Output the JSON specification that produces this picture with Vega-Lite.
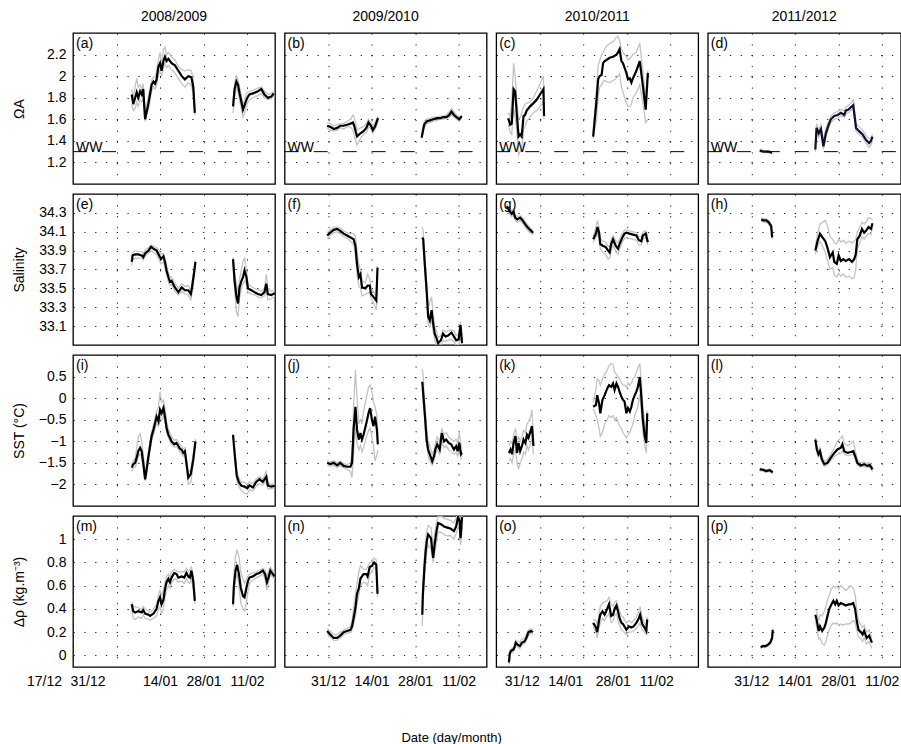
{
"$schema":"https://vega.github.io/schema/vega-lite/v6.json",
"padding":{"left":11,"top":9,"right":0,"bottom":0},
"config":{
 "font":"Liberation Sans",
 "view":{"stroke":"black","strokeWidth":1.3},
 "axis":{"labelFont":"Liberation Sans","labelFontSize":14,"labelColor":"black","titleFont":"Liberation Sans","titleFontSize":14,"titleFontWeight":"normal","titleColor":"black","gridColor":"black","gridDash":[1.3,9.5],"gridOpacity":0.85,"gridWidth":1,"domain":false,"ticks":false,"labelFlush":false,"labelOverlap":false},
 "title":{"font":"Liberation Sans","fontSize":14,"fontWeight":"normal","color":"black","offset":9},
 "text":{"font":"Liberation Sans","fontSize":14,"color":"black"}
},
"title":{"text":"Date (day/month)","orient":"bottom","anchor":"middle","frame":"bounds","offset":43,"fontSize":13,"dx":-5},
"columns":4,
"spacing":{"row":8,"column":5.6},
"datasets":{
"a":[{"g":1,"d":18.9,"m":1.83,"lo":1.74,"hi":1.88},{"g":1,"d":19.4,"m":1.74,"lo":1.68,"hi":1.8},{"g":1,"d":20.0,"m":1.8,"lo":1.7,"hi":1.9},{"g":1,"d":20.5,"m":1.85,"lo":1.76,"hi":1.98},{"g":1,"d":21.0,"m":1.8,"lo":1.72,"hi":1.9},{"g":1,"d":21.6,"m":1.86,"lo":1.78,"hi":1.92},{"g":1,"d":22.1,"m":1.83,"lo":1.76,"hi":1.88},{"g":1,"d":22.6,"m":1.88,"lo":1.8,"hi":1.93},{"g":1,"d":23.2,"m":1.6,"lo":1.58,"hi":1.66},{"g":1,"d":24.3,"m":1.75,"lo":1.7,"hi":1.82},{"g":1,"d":25.3,"m":1.92,"lo":1.86,"hi":1.96},{"g":1,"d":25.9,"m":1.95,"lo":1.9,"hi":1.99},{"g":1,"d":26.4,"m":1.93,"lo":1.88,"hi":1.99},{"g":1,"d":26.9,"m":1.97,"lo":1.92,"hi":2.05},{"g":1,"d":27.5,"m":2.09,"lo":2.02,"hi":2.15},{"g":1,"d":28.0,"m":2.12,"lo":2.05,"hi":2.22},{"g":1,"d":28.5,"m":2.05,"lo":2.0,"hi":2.1},{"g":1,"d":29.1,"m":2.14,"lo":2.08,"hi":2.25},{"g":1,"d":29.6,"m":2.18,"lo":2.12,"hi":2.27},{"g":1,"d":30.1,"m":2.14,"lo":2.08,"hi":2.2},{"g":1,"d":30.7,"m":2.16,"lo":2.1,"hi":2.22},{"g":1,"d":31.7,"m":2.12,"lo":2.06,"hi":2.18},{"g":1,"d":32.8,"m":2.1,"lo":2.03,"hi":2.15},{"g":1,"d":33.9,"m":2.05,"lo":1.98,"hi":2.09},{"g":1,"d":35.0,"m":2.0,"lo":1.93,"hi":2.06},{"g":1,"d":36.0,"m":1.97,"lo":1.9,"hi":2.05},{"g":1,"d":37.1,"m":2.0,"lo":1.94,"hi":2.06},{"g":1,"d":38.1,"m":1.99,"lo":1.91,"hi":2.05},{"g":1,"d":38.7,"m":1.9,"lo":1.84,"hi":1.96},{"g":1,"d":39.2,"m":1.66,"lo":1.64,"hi":1.7},
{"g":2,"d":51.5,"m":1.72,"lo":1.66,"hi":1.76},{"g":2,"d":52.0,"m":1.88,"lo":1.8,"hi":1.94},{"g":2,"d":52.6,"m":1.95,"lo":1.9,"hi":2.0},{"g":2,"d":53.1,"m":1.92,"lo":1.86,"hi":1.97},{"g":2,"d":53.6,"m":1.84,"lo":1.78,"hi":1.9},{"g":2,"d":54.2,"m":1.76,"lo":1.7,"hi":1.82},{"g":2,"d":54.7,"m":1.69,"lo":1.62,"hi":1.74},{"g":2,"d":55.2,"m":1.73,"lo":1.66,"hi":1.78},{"g":2,"d":55.8,"m":1.78,"lo":1.72,"hi":1.84},{"g":2,"d":56.3,"m":1.81,"lo":1.76,"hi":1.85},{"g":2,"d":56.8,"m":1.83,"lo":1.78,"hi":1.86},{"g":2,"d":57.9,"m":1.84,"lo":1.8,"hi":1.87},{"g":2,"d":59.5,"m":1.86,"lo":1.82,"hi":1.89},{"g":2,"d":60.6,"m":1.88,"lo":1.84,"hi":1.9},{"g":2,"d":61.6,"m":1.83,"lo":1.8,"hi":1.86},{"g":2,"d":62.7,"m":1.8,"lo":1.78,"hi":1.83},{"g":2,"d":63.8,"m":1.81,"lo":1.79,"hi":1.84},{"g":2,"d":64.6,"m":1.84,"lo":1.82,"hi":1.86}],
"b":[{"g":1,"d":13.7,"m":1.54,"lo":1.52,"hi":1.57},{"g":1,"d":14.7,"m":1.53,"lo":1.5,"hi":1.56},{"g":1,"d":15.8,"m":1.51,"lo":1.49,"hi":1.54},{"g":1,"d":16.9,"m":1.52,"lo":1.5,"hi":1.55},{"g":1,"d":17.9,"m":1.54,"lo":1.52,"hi":1.56},{"g":1,"d":19.0,"m":1.54,"lo":1.51,"hi":1.56},{"g":1,"d":20.1,"m":1.55,"lo":1.53,"hi":1.58},{"g":1,"d":21.2,"m":1.56,"lo":1.53,"hi":1.6},{"g":1,"d":22.0,"m":1.57,"lo":1.5,"hi":1.64},{"g":1,"d":22.4,"m":1.54,"lo":1.45,"hi":1.62},{"g":1,"d":23.3,"m":1.44,"lo":1.36,"hi":1.5},{"g":1,"d":24.4,"m":1.47,"lo":1.42,"hi":1.52},{"g":1,"d":25.4,"m":1.49,"lo":1.46,"hi":1.53},{"g":1,"d":26.3,"m":1.52,"lo":1.48,"hi":1.56},{"g":1,"d":27.0,"m":1.57,"lo":1.53,"hi":1.6},{"g":1,"d":27.8,"m":1.54,"lo":1.51,"hi":1.57},{"g":1,"d":28.4,"m":1.5,"lo":1.47,"hi":1.54},{"g":1,"d":29.2,"m":1.54,"lo":1.51,"hi":1.57},{"g":1,"d":29.9,"m":1.6,"lo":1.57,"hi":1.62},{"g":1,"d":30.2,"m":1.61,"lo":1.59,"hi":1.62},
{"g":2,"d":44.1,"m":1.43,"lo":1.42,"hi":1.45},{"g":2,"d":44.9,"m":1.55,"lo":1.52,"hi":1.58},{"g":2,"d":45.7,"m":1.58,"lo":1.56,"hi":1.6},{"g":2,"d":46.8,"m":1.59,"lo":1.57,"hi":1.61},{"g":2,"d":47.9,"m":1.6,"lo":1.58,"hi":1.62},{"g":2,"d":49.0,"m":1.61,"lo":1.59,"hi":1.62},{"g":2,"d":50.0,"m":1.61,"lo":1.6,"hi":1.63},{"g":2,"d":51.1,"m":1.62,"lo":1.6,"hi":1.63},{"g":2,"d":52.1,"m":1.62,"lo":1.61,"hi":1.64},{"g":2,"d":53.0,"m":1.64,"lo":1.62,"hi":1.67},{"g":2,"d":53.7,"m":1.67,"lo":1.64,"hi":1.7},{"g":2,"d":54.5,"m":1.64,"lo":1.62,"hi":1.67},{"g":2,"d":55.3,"m":1.62,"lo":1.6,"hi":1.64},{"g":2,"d":56.2,"m":1.6,"lo":1.58,"hi":1.62},{"g":2,"d":57.0,"m":1.63,"lo":1.61,"hi":1.64}],
"c":[{"g":1,"d":3.9,"m":1.61,"lo":1.55,"hi":1.66},{"g":1,"d":4.5,"m":1.55,"lo":1.48,"hi":1.62},{"g":1,"d":5.0,"m":1.56,"lo":1.46,"hi":1.75},{"g":1,"d":5.6,"m":1.88,"lo":1.7,"hi":2.12},{"g":1,"d":6.1,"m":1.86,"lo":1.62,"hi":2.0},{"g":1,"d":6.6,"m":1.66,"lo":1.5,"hi":1.78},{"g":1,"d":7.2,"m":1.44,"lo":1.27,"hi":1.6},{"g":1,"d":7.7,"m":1.46,"lo":1.3,"hi":1.62},{"g":1,"d":8.2,"m":1.44,"lo":1.32,"hi":1.65},{"g":1,"d":8.8,"m":1.63,"lo":1.5,"hi":1.72},{"g":1,"d":9.3,"m":1.64,"lo":1.54,"hi":1.74},{"g":1,"d":9.8,"m":1.68,"lo":1.58,"hi":1.75},{"g":1,"d":10.9,"m":1.72,"lo":1.62,"hi":1.76},{"g":1,"d":12.0,"m":1.75,"lo":1.66,"hi":1.8},{"g":1,"d":13.0,"m":1.78,"lo":1.68,"hi":1.86},{"g":1,"d":14.1,"m":1.83,"lo":1.72,"hi":1.93},{"g":1,"d":15.2,"m":1.88,"lo":1.76,"hi":2.0},{"g":1,"d":15.4,"m":1.63,"lo":1.6,"hi":1.68},
{"g":2,"d":31.2,"m":1.44,"lo":1.42,"hi":1.47},{"g":2,"d":32.3,"m":1.78,"lo":1.6,"hi":1.9},{"g":2,"d":32.8,"m":1.97,"lo":1.8,"hi":2.1},{"g":2,"d":33.3,"m":2.0,"lo":1.9,"hi":2.14},{"g":2,"d":33.9,"m":2.01,"lo":1.92,"hi":2.2},{"g":2,"d":34.4,"m":2.12,"lo":1.95,"hi":2.22},{"g":2,"d":34.9,"m":2.14,"lo":1.96,"hi":2.25},{"g":2,"d":35.5,"m":2.15,"lo":1.95,"hi":2.28},{"g":2,"d":36.5,"m":2.17,"lo":1.94,"hi":2.3},{"g":2,"d":37.6,"m":2.18,"lo":1.96,"hi":2.32},{"g":2,"d":38.7,"m":2.2,"lo":1.98,"hi":2.36},{"g":2,"d":39.2,"m":2.22,"lo":2.0,"hi":2.37},{"g":2,"d":39.7,"m":2.25,"lo":2.02,"hi":2.33},{"g":2,"d":40.3,"m":2.14,"lo":1.9,"hi":2.25},{"g":2,"d":40.8,"m":2.12,"lo":1.85,"hi":2.22},{"g":2,"d":41.9,"m":2.03,"lo":1.75,"hi":2.18},{"g":2,"d":42.4,"m":1.97,"lo":1.72,"hi":2.15},{"g":2,"d":43.0,"m":1.98,"lo":1.72,"hi":2.16},{"g":2,"d":43.5,"m":1.94,"lo":1.74,"hi":2.18},{"g":2,"d":44.0,"m":1.98,"lo":1.8,"hi":2.2},{"g":2,"d":45.1,"m":2.05,"lo":1.85,"hi":2.22},{"g":2,"d":45.6,"m":2.09,"lo":1.88,"hi":2.26},{"g":2,"d":46.2,"m":2.14,"lo":1.92,"hi":2.3},{"g":2,"d":47.2,"m":1.91,"lo":1.75,"hi":2.05},{"g":2,"d":48.1,"m":1.69,"lo":1.57,"hi":1.8},{"g":2,"d":48.8,"m":2.03,"lo":1.6,"hi":2.05}],
"d":[{"g":1,"d":16.7,"m":1.31,"lo":1.3,"hi":1.32},{"g":1,"d":18.0,"m":1.3,"lo":1.29,"hi":1.31},{"g":1,"d":19.5,"m":1.3,"lo":1.29,"hi":1.31},{"g":1,"d":20.7,"m":1.29,"lo":1.28,"hi":1.3},
{"g":2,"d":34.6,"m":1.32,"lo":1.3,"hi":1.35},{"g":2,"d":35.0,"m":1.52,"lo":1.48,"hi":1.56},{"g":2,"d":35.7,"m":1.47,"lo":1.43,"hi":1.5},{"g":2,"d":36.4,"m":1.51,"lo":1.47,"hi":1.55},{"g":2,"d":37.2,"m":1.35,"lo":1.32,"hi":1.4},{"g":2,"d":38.0,"m":1.47,"lo":1.44,"hi":1.52},{"g":2,"d":38.9,"m":1.55,"lo":1.52,"hi":1.58},{"g":2,"d":39.6,"m":1.6,"lo":1.57,"hi":1.63},{"g":2,"d":40.7,"m":1.63,"lo":1.6,"hi":1.66},{"g":2,"d":41.8,"m":1.64,"lo":1.61,"hi":1.67},{"g":2,"d":42.8,"m":1.66,"lo":1.63,"hi":1.69},{"g":2,"d":43.9,"m":1.64,"lo":1.62,"hi":1.68},{"g":2,"d":44.4,"m":1.68,"lo":1.65,"hi":1.71},{"g":2,"d":45.3,"m":1.69,"lo":1.66,"hi":1.73},{"g":2,"d":46.0,"m":1.71,"lo":1.68,"hi":1.75},{"g":2,"d":46.8,"m":1.73,"lo":1.7,"hi":1.78},{"g":2,"d":47.7,"m":1.52,"lo":1.49,"hi":1.56},{"g":2,"d":48.7,"m":1.49,"lo":1.46,"hi":1.53},{"g":2,"d":49.8,"m":1.46,"lo":1.43,"hi":1.5},{"g":2,"d":50.9,"m":1.41,"lo":1.38,"hi":1.45},{"g":2,"d":51.9,"m":1.38,"lo":1.34,"hi":1.42},{"g":2,"d":52.5,"m":1.4,"lo":1.36,"hi":1.43},{"g":2,"d":53.0,"m":1.44,"lo":1.4,"hi":1.46}],
"e":[{"g":1,"d":18.9,"m":33.78,"lo":33.74,"hi":33.82},{"g":1,"d":19.2,"m":33.85,"lo":33.8,"hi":33.88},{"g":1,"d":20.0,"m":33.86,"lo":33.82,"hi":33.9},{"g":1,"d":21.0,"m":33.86,"lo":33.82,"hi":33.89},{"g":1,"d":22.1,"m":33.85,"lo":33.82,"hi":33.89},{"g":1,"d":22.6,"m":33.83,"lo":33.8,"hi":33.87},{"g":1,"d":23.2,"m":33.87,"lo":33.84,"hi":33.91},{"g":1,"d":24.3,"m":33.9,"lo":33.87,"hi":33.93},{"g":1,"d":25.1,"m":33.94,"lo":33.9,"hi":33.96},{"g":1,"d":25.9,"m":33.92,"lo":33.88,"hi":33.95},{"g":1,"d":26.9,"m":33.9,"lo":33.86,"hi":33.93},{"g":1,"d":27.7,"m":33.85,"lo":33.8,"hi":33.9},{"g":1,"d":28.3,"m":33.81,"lo":33.76,"hi":33.86},{"g":1,"d":29.1,"m":33.84,"lo":33.78,"hi":33.87},{"g":1,"d":29.6,"m":33.78,"lo":33.72,"hi":33.82},{"g":1,"d":30.1,"m":33.69,"lo":33.64,"hi":33.74},{"g":1,"d":30.7,"m":33.62,"lo":33.57,"hi":33.66},{"g":1,"d":31.2,"m":33.57,"lo":33.53,"hi":33.62},{"g":1,"d":31.7,"m":33.58,"lo":33.54,"hi":33.62},{"g":1,"d":32.8,"m":33.51,"lo":33.47,"hi":33.56},{"g":1,"d":33.9,"m":33.46,"lo":33.43,"hi":33.5},{"g":1,"d":35.0,"m":33.51,"lo":33.47,"hi":33.55},{"g":1,"d":36.0,"m":33.48,"lo":33.44,"hi":33.52},{"g":1,"d":37.1,"m":33.48,"lo":33.43,"hi":33.53},{"g":1,"d":37.9,"m":33.44,"lo":33.38,"hi":33.48},{"g":1,"d":38.3,"m":33.51,"lo":33.45,"hi":33.56},{"g":1,"d":38.9,"m":33.65,"lo":33.6,"hi":33.7},{"g":1,"d":39.4,"m":33.78,"lo":33.75,"hi":33.8},
{"g":2,"d":51.5,"m":33.81,"lo":33.78,"hi":33.83},{"g":2,"d":52.0,"m":33.58,"lo":33.5,"hi":33.65},{"g":2,"d":52.6,"m":33.41,"lo":33.25,"hi":33.55},{"g":2,"d":53.1,"m":33.34,"lo":33.2,"hi":33.45},{"g":2,"d":53.6,"m":33.51,"lo":33.4,"hi":33.6},{"g":2,"d":54.2,"m":33.58,"lo":33.5,"hi":33.7},{"g":2,"d":54.7,"m":33.62,"lo":33.55,"hi":33.78},{"g":2,"d":55.2,"m":33.69,"lo":33.58,"hi":33.83},{"g":2,"d":55.8,"m":33.62,"lo":33.55,"hi":33.7},{"g":2,"d":56.3,"m":33.5,"lo":33.46,"hi":33.55},{"g":2,"d":57.4,"m":33.48,"lo":33.44,"hi":33.52},{"g":2,"d":58.4,"m":33.46,"lo":33.43,"hi":33.5},{"g":2,"d":59.5,"m":33.44,"lo":33.41,"hi":33.48},{"g":2,"d":60.6,"m":33.43,"lo":33.4,"hi":33.47},{"g":2,"d":61.6,"m":33.46,"lo":33.42,"hi":33.5},{"g":2,"d":62.2,"m":33.55,"lo":33.48,"hi":33.65},{"g":2,"d":62.7,"m":33.44,"lo":33.38,"hi":33.5},{"g":2,"d":63.8,"m":33.43,"lo":33.39,"hi":33.47},{"g":2,"d":64.9,"m":33.45,"lo":33.42,"hi":33.48}],
"f":[{"g":1,"d":13.7,"m":34.06,"lo":34.03,"hi":34.09},{"g":1,"d":14.7,"m":34.09,"lo":34.06,"hi":34.12},{"g":1,"d":15.8,"m":34.12,"lo":34.09,"hi":34.15},{"g":1,"d":16.9,"m":34.13,"lo":34.1,"hi":34.15},{"g":1,"d":17.9,"m":34.11,"lo":34.08,"hi":34.14},{"g":1,"d":19.0,"m":34.08,"lo":34.05,"hi":34.11},{"g":1,"d":20.1,"m":34.06,"lo":34.03,"hi":34.09},{"g":1,"d":21.2,"m":34.04,"lo":34.0,"hi":34.08},{"g":1,"d":22.2,"m":34.02,"lo":33.97,"hi":34.08},{"g":1,"d":22.8,"m":33.95,"lo":33.85,"hi":34.05},{"g":1,"d":23.3,"m":33.76,"lo":33.65,"hi":33.9},{"g":1,"d":23.9,"m":33.62,"lo":33.52,"hi":33.75},{"g":1,"d":24.4,"m":33.65,"lo":33.5,"hi":33.7},{"g":1,"d":24.9,"m":33.51,"lo":33.42,"hi":33.58},{"g":1,"d":26.0,"m":33.5,"lo":33.44,"hi":33.56},{"g":1,"d":26.7,"m":33.53,"lo":33.45,"hi":33.65},{"g":1,"d":27.4,"m":33.53,"lo":33.46,"hi":33.6},{"g":1,"d":27.8,"m":33.44,"lo":33.4,"hi":33.5},{"g":1,"d":28.6,"m":33.41,"lo":33.35,"hi":33.46},{"g":1,"d":29.5,"m":33.37,"lo":33.27,"hi":33.42},{"g":1,"d":29.9,"m":33.72,"lo":33.6,"hi":33.74},
{"g":2,"d":44.3,"m":34.04,"lo":33.98,"hi":34.15},{"g":2,"d":44.6,"m":34.02,"lo":33.95,"hi":34.1},{"g":2,"d":45.1,"m":33.76,"lo":33.7,"hi":33.85},{"g":2,"d":45.7,"m":33.48,"lo":33.42,"hi":33.56},{"g":2,"d":46.2,"m":33.2,"lo":33.12,"hi":33.3},{"g":2,"d":46.7,"m":33.16,"lo":33.09,"hi":33.35},{"g":2,"d":47.3,"m":33.27,"lo":33.18,"hi":33.41},{"g":2,"d":47.8,"m":33.13,"lo":33.05,"hi":33.22},{"g":2,"d":48.3,"m":33.02,"lo":32.95,"hi":33.1},{"g":2,"d":48.9,"m":32.97,"lo":32.9,"hi":33.04},{"g":2,"d":49.4,"m":32.92,"lo":32.88,"hi":32.98},{"g":2,"d":50.3,"m":32.95,"lo":32.9,"hi":33.0},{"g":2,"d":51.0,"m":33.02,"lo":32.95,"hi":33.06},{"g":2,"d":51.8,"m":32.99,"lo":32.94,"hi":33.04},{"g":2,"d":52.6,"m":33.0,"lo":32.95,"hi":33.05},{"g":2,"d":53.7,"m":33.03,"lo":32.96,"hi":33.06},{"g":2,"d":54.5,"m":32.99,"lo":32.93,"hi":33.05},{"g":2,"d":55.2,"m":32.95,"lo":32.9,"hi":33.0},{"g":2,"d":56.0,"m":32.96,"lo":32.9,"hi":33.02},{"g":2,"d":56.6,"m":33.11,"lo":33.0,"hi":33.15},{"g":2,"d":57.1,"m":32.92,"lo":32.88,"hi":32.96}],
"g":[{"g":1,"d":3.4,"m":34.37,"lo":34.34,"hi":34.39},{"g":1,"d":4.3,"m":34.32,"lo":34.29,"hi":34.35},{"g":1,"d":5.0,"m":34.29,"lo":34.26,"hi":34.32},{"g":1,"d":5.6,"m":34.31,"lo":34.28,"hi":34.34},{"g":1,"d":6.1,"m":34.25,"lo":34.22,"hi":34.28},{"g":1,"d":6.8,"m":34.23,"lo":34.2,"hi":34.26},{"g":1,"d":7.7,"m":34.25,"lo":34.22,"hi":34.27},{"g":1,"d":8.5,"m":34.22,"lo":34.19,"hi":34.25},{"g":1,"d":9.3,"m":34.18,"lo":34.15,"hi":34.21},{"g":1,"d":10.0,"m":34.15,"lo":34.12,"hi":34.18},{"g":1,"d":10.9,"m":34.12,"lo":34.09,"hi":34.14},{"g":1,"d":11.9,"m":34.09,"lo":34.07,"hi":34.11},
{"g":2,"d":31.2,"m":34.02,"lo":33.99,"hi":34.05},{"g":2,"d":32.1,"m":34.08,"lo":34.04,"hi":34.15},{"g":2,"d":32.6,"m":34.15,"lo":34.08,"hi":34.22},{"g":2,"d":33.1,"m":34.09,"lo":34.03,"hi":34.14},{"g":2,"d":33.5,"m":33.97,"lo":33.92,"hi":34.03},{"g":2,"d":34.4,"m":33.95,"lo":33.88,"hi":34.0},{"g":2,"d":35.2,"m":33.94,"lo":33.86,"hi":33.99},{"g":2,"d":36.0,"m":33.9,"lo":33.81,"hi":33.95},{"g":2,"d":36.5,"m":33.88,"lo":33.82,"hi":33.94},{"g":2,"d":37.0,"m":33.97,"lo":33.9,"hi":34.02},{"g":2,"d":37.6,"m":34.02,"lo":33.96,"hi":34.06},{"g":2,"d":38.5,"m":33.95,"lo":33.89,"hi":34.0},{"g":2,"d":39.2,"m":33.92,"lo":33.86,"hi":33.98},{"g":2,"d":39.7,"m":33.97,"lo":33.92,"hi":34.02},{"g":2,"d":40.6,"m":34.04,"lo":33.99,"hi":34.08},{"g":2,"d":41.3,"m":34.08,"lo":34.03,"hi":34.12},{"g":2,"d":41.9,"m":34.09,"lo":34.04,"hi":34.12},{"g":2,"d":42.9,"m":34.08,"lo":34.03,"hi":34.11},{"g":2,"d":44.0,"m":34.07,"lo":34.02,"hi":34.1},{"g":2,"d":45.1,"m":34.06,"lo":34.01,"hi":34.09},{"g":2,"d":45.9,"m":34.01,"lo":33.96,"hi":34.05},{"g":2,"d":46.7,"m":34.0,"lo":33.96,"hi":34.04},{"g":2,"d":47.2,"m":34.06,"lo":34.02,"hi":34.1},{"g":2,"d":48.1,"m":34.08,"lo":34.04,"hi":34.11},{"g":2,"d":48.8,"m":33.99,"lo":33.96,"hi":34.05}],
"h":[{"g":1,"d":17.2,"m":34.23,"lo":34.21,"hi":34.25},{"g":1,"d":17.9,"m":34.22,"lo":34.2,"hi":34.24},{"g":1,"d":18.8,"m":34.22,"lo":34.2,"hi":34.24},{"g":1,"d":19.6,"m":34.2,"lo":34.18,"hi":34.22},{"g":1,"d":20.4,"m":34.16,"lo":34.14,"hi":34.18},{"g":1,"d":20.7,"m":34.04,"lo":34.02,"hi":34.06},
{"g":2,"d":34.6,"m":33.9,"lo":33.86,"hi":33.95},{"g":2,"d":35.3,"m":34.0,"lo":33.94,"hi":34.08},{"g":2,"d":36.1,"m":34.08,"lo":34.0,"hi":34.18},{"g":2,"d":36.9,"m":34.04,"lo":33.95,"hi":34.2},{"g":2,"d":37.8,"m":34.0,"lo":33.88,"hi":34.22},{"g":2,"d":38.6,"m":33.92,"lo":33.79,"hi":34.15},{"g":2,"d":39.3,"m":33.83,"lo":33.7,"hi":34.05},{"g":2,"d":40.2,"m":33.88,"lo":33.72,"hi":34.02},{"g":2,"d":40.7,"m":33.78,"lo":33.64,"hi":33.98},{"g":2,"d":41.5,"m":33.76,"lo":33.62,"hi":33.97},{"g":2,"d":42.1,"m":33.85,"lo":33.66,"hi":34.02},{"g":2,"d":42.8,"m":33.79,"lo":33.63,"hi":33.99},{"g":2,"d":43.6,"m":33.81,"lo":33.65,"hi":34.01},{"g":2,"d":44.4,"m":33.79,"lo":33.62,"hi":33.98},{"g":2,"d":45.5,"m":33.81,"lo":33.63,"hi":34.0},{"g":2,"d":46.4,"m":33.78,"lo":33.6,"hi":33.98},{"g":2,"d":47.1,"m":33.81,"lo":33.62,"hi":34.0},{"g":2,"d":47.6,"m":33.86,"lo":33.7,"hi":34.02},{"g":2,"d":48.1,"m":34.02,"lo":33.92,"hi":34.1},{"g":2,"d":48.9,"m":34.06,"lo":33.98,"hi":34.15},{"g":2,"d":49.6,"m":34.13,"lo":34.05,"hi":34.2},{"g":2,"d":50.3,"m":34.09,"lo":34.02,"hi":34.18},{"g":2,"d":50.9,"m":34.11,"lo":34.05,"hi":34.2},{"g":2,"d":51.7,"m":34.15,"lo":34.08,"hi":34.25},{"g":2,"d":52.5,"m":34.13,"lo":34.07,"hi":34.24},{"g":2,"d":53.0,"m":34.19,"lo":34.14,"hi":34.23}],
"i":[{"g":1,"d":18.9,"m":-1.61,"lo":-1.7,"hi":-1.55},{"g":1,"d":19.4,"m":-1.53,"lo":-1.62,"hi":-1.45},{"g":1,"d":20.0,"m":-1.5,"lo":-1.6,"hi":-1.4},{"g":1,"d":20.5,"m":-1.38,"lo":-1.5,"hi":-1.15},{"g":1,"d":21.0,"m":-1.23,"lo":-1.35,"hi":-0.9},{"g":1,"d":21.6,"m":-1.15,"lo":-1.3,"hi":-0.82},{"g":1,"d":22.1,"m":-1.23,"lo":-1.4,"hi":-1.0},{"g":1,"d":22.6,"m":-1.5,"lo":-1.6,"hi":-1.3},{"g":1,"d":23.2,"m":-1.88,"lo":-1.92,"hi":-1.75},{"g":1,"d":23.7,"m":-1.65,"lo":-1.75,"hi":-1.55},{"g":1,"d":24.3,"m":-1.34,"lo":-1.45,"hi":-1.25},{"g":1,"d":24.8,"m":-1.11,"lo":-1.2,"hi":-1.02},{"g":1,"d":25.3,"m":-0.88,"lo":-0.98,"hi":-0.78},{"g":1,"d":25.9,"m":-0.73,"lo":-0.85,"hi":-0.62},{"g":1,"d":26.4,"m":-0.58,"lo":-0.72,"hi":-0.45},{"g":1,"d":26.9,"m":-0.43,"lo":-0.58,"hi":-0.3},{"g":1,"d":27.5,"m":-0.54,"lo":-0.65,"hi":-0.2},{"g":1,"d":28.0,"m":-0.27,"lo":-0.45,"hi":0.15},{"g":1,"d":28.5,"m":-0.35,"lo":-0.5,"hi":-0.1},{"g":1,"d":29.1,"m":-0.23,"lo":-0.4,"hi":-0.05},{"g":1,"d":29.6,"m":-0.43,"lo":-0.55,"hi":-0.25},{"g":1,"d":30.1,"m":-0.69,"lo":-0.78,"hi":-0.55},{"g":1,"d":30.7,"m":-0.85,"lo":-0.92,"hi":-0.72},{"g":1,"d":31.2,"m":-0.92,"lo":-1.0,"hi":-0.8},{"g":1,"d":31.7,"m":-1.0,"lo":-1.08,"hi":-0.9},{"g":1,"d":32.6,"m":-1.07,"lo":-1.14,"hi":-0.98},{"g":1,"d":33.3,"m":-1.04,"lo":-1.12,"hi":-0.96},{"g":1,"d":33.9,"m":-1.11,"lo":-1.18,"hi":-1.02},{"g":1,"d":34.4,"m":-1.17,"lo":-1.25,"hi":-1.08},{"g":1,"d":34.9,"m":-1.19,"lo":-1.28,"hi":-1.1},{"g":1,"d":35.5,"m":-1.27,"lo":-1.35,"hi":-1.18},{"g":1,"d":36.0,"m":-1.23,"lo":-1.32,"hi":-1.15},{"g":1,"d":36.5,"m":-1.5,"lo":-1.6,"hi":-1.4},{"g":1,"d":37.1,"m":-1.84,"lo":-2.0,"hi":-1.75},{"g":1,"d":37.9,"m":-1.76,"lo":-1.95,"hi":-1.65},{"g":1,"d":38.7,"m":-1.42,"lo":-1.55,"hi":-1.3},{"g":1,"d":39.4,"m":-1.0,"lo":-1.08,"hi":-0.95},
{"g":2,"d":51.5,"m":-0.85,"lo":-0.88,"hi":-0.82},{"g":2,"d":51.8,"m":-1.11,"lo":-1.18,"hi":-1.05},{"g":2,"d":52.3,"m":-1.5,"lo":-1.6,"hi":-1.42},{"g":2,"d":52.7,"m":-1.8,"lo":-1.9,"hi":-1.7},{"g":2,"d":53.4,"m":-1.95,"lo":-2.05,"hi":-1.85},{"g":2,"d":54.2,"m":-2.03,"lo":-2.15,"hi":-1.95},{"g":2,"d":55.2,"m":-2.05,"lo":-2.2,"hi":-1.95},{"g":2,"d":56.1,"m":-2.09,"lo":-2.22,"hi":-2.0},{"g":2,"d":56.8,"m":-2.02,"lo":-2.12,"hi":-1.94},{"g":2,"d":57.9,"m":-2.07,"lo":-2.15,"hi":-1.98},{"g":2,"d":58.9,"m":-1.95,"lo":-2.05,"hi":-1.88},{"g":2,"d":60.0,"m":-1.88,"lo":-1.98,"hi":-1.82},{"g":2,"d":61.1,"m":-1.94,"lo":-2.02,"hi":-1.88},{"g":2,"d":62.2,"m":-1.82,"lo":-1.92,"hi":-1.7},{"g":2,"d":62.7,"m":-2.03,"lo":-2.1,"hi":-1.95},{"g":2,"d":63.8,"m":-2.05,"lo":-2.1,"hi":-2.0},{"g":2,"d":64.9,"m":-2.03,"lo":-2.08,"hi":-1.98}],
"j":[{"g":1,"d":13.7,"m":-1.5,"lo":-1.55,"hi":-1.45},{"g":1,"d":14.7,"m":-1.53,"lo":-1.58,"hi":-1.48},{"g":1,"d":15.8,"m":-1.5,"lo":-1.56,"hi":-1.45},{"g":1,"d":16.9,"m":-1.56,"lo":-1.61,"hi":-1.5},{"g":1,"d":17.9,"m":-1.5,"lo":-1.57,"hi":-1.46},{"g":1,"d":19.0,"m":-1.57,"lo":-1.62,"hi":-1.52},{"g":1,"d":20.1,"m":-1.59,"lo":-1.65,"hi":-1.54},{"g":1,"d":21.2,"m":-1.59,"lo":-1.7,"hi":-1.5},{"g":1,"d":21.7,"m":-1.5,"lo":-1.84,"hi":-1.3},{"g":1,"d":22.2,"m":-0.73,"lo":-1.3,"hi":-0.2},{"g":1,"d":22.8,"m":-0.2,"lo":-0.7,"hi":0.65},{"g":1,"d":23.3,"m":-0.73,"lo":-1.05,"hi":0.0},{"g":1,"d":23.9,"m":-0.96,"lo":-1.2,"hi":-0.6},{"g":1,"d":24.4,"m":-0.81,"lo":-1.1,"hi":-0.5},{"g":1,"d":24.9,"m":-0.96,"lo":-1.25,"hi":-0.6},{"g":1,"d":25.4,"m":-0.85,"lo":-1.15,"hi":-0.3},{"g":1,"d":26.3,"m":-0.58,"lo":-0.9,"hi":0.0},{"g":1,"d":27.0,"m":-0.35,"lo":-0.75,"hi":0.25},{"g":1,"d":27.5,"m":-0.23,"lo":-0.7,"hi":0.3},{"g":1,"d":28.1,"m":-0.5,"lo":-0.9,"hi":0.15},{"g":1,"d":28.6,"m":-0.65,"lo":-1.1,"hi":-0.1},{"g":1,"d":29.1,"m":-0.43,"lo":-1.46,"hi":-0.2},{"g":1,"d":29.7,"m":-0.73,"lo":-1.3,"hi":-0.4},{"g":1,"d":30.0,"m":-1.07,"lo":-1.2,"hi":-0.9},
{"g":2,"d":44.3,"m":0.38,"lo":0.2,"hi":0.68},{"g":2,"d":44.6,"m":0.11,"lo":-0.1,"hi":0.5},{"g":2,"d":45.1,"m":-0.35,"lo":-0.55,"hi":-0.1},{"g":2,"d":45.7,"m":-0.96,"lo":-1.1,"hi":-0.7},{"g":2,"d":46.2,"m":-1.19,"lo":-1.35,"hi":-1.0},{"g":2,"d":46.7,"m":-1.3,"lo":-1.45,"hi":-1.1},{"g":2,"d":47.5,"m":-1.46,"lo":-1.55,"hi":-1.3},{"g":2,"d":48.1,"m":-1.34,"lo":-1.45,"hi":-1.2},{"g":2,"d":48.5,"m":-1.19,"lo":-1.3,"hi":-1.05},{"g":2,"d":49.1,"m":-1.07,"lo":-1.2,"hi":-0.9},{"g":2,"d":49.9,"m":-1.19,"lo":-1.3,"hi":-1.0},{"g":2,"d":50.6,"m":-0.81,"lo":-1.0,"hi":-0.7},{"g":2,"d":51.3,"m":-1.0,"lo":-1.15,"hi":-0.85},{"g":2,"d":52.0,"m":-0.96,"lo":-1.1,"hi":-0.8},{"g":2,"d":52.8,"m":-1.04,"lo":-1.2,"hi":-0.9},{"g":2,"d":53.6,"m":-1.07,"lo":-1.25,"hi":-0.95},{"g":2,"d":54.5,"m":-1.19,"lo":-1.3,"hi":-1.0},{"g":2,"d":55.2,"m":-1.11,"lo":-1.25,"hi":-0.95},{"g":2,"d":55.7,"m":-1.23,"lo":-1.35,"hi":-1.05},{"g":2,"d":56.2,"m":-1.04,"lo":-1.2,"hi":-0.8},{"g":2,"d":56.8,"m":-1.3,"lo":-1.4,"hi":-1.1},{"g":2,"d":57.1,"m":-1.27,"lo":-1.35,"hi":-1.15}],
"k":[{"g":1,"d":4.1,"m":-1.27,"lo":-1.45,"hi":-1.1},{"g":1,"d":4.6,"m":-1.19,"lo":-1.4,"hi":-1.0},{"g":1,"d":5.1,"m":-1.3,"lo":-1.5,"hi":-1.05},{"g":1,"d":5.6,"m":-1.04,"lo":-1.3,"hi":-0.85},{"g":1,"d":6.2,"m":-0.88,"lo":-1.2,"hi":-0.7},{"g":1,"d":6.7,"m":-1.27,"lo":-1.5,"hi":-1.0},{"g":1,"d":7.2,"m":-1.04,"lo":-1.65,"hi":-0.9},{"g":1,"d":7.7,"m":-1.23,"lo":-1.5,"hi":-1.0},{"g":1,"d":8.3,"m":-1.11,"lo":-1.4,"hi":-0.9},{"g":1,"d":8.8,"m":-0.96,"lo":-1.25,"hi":-0.75},{"g":1,"d":9.4,"m":-1.04,"lo":-1.3,"hi":-0.8},{"g":1,"d":9.9,"m":-0.85,"lo":-1.1,"hi":-0.6},{"g":1,"d":10.4,"m":-0.92,"lo":-1.2,"hi":-0.55},{"g":1,"d":11.0,"m":-0.77,"lo":-1.05,"hi":-0.45},{"g":1,"d":11.5,"m":-0.65,"lo":-0.95,"hi":-0.27},{"g":1,"d":12.0,"m":-1.11,"lo":-1.3,"hi":-0.9},
{"g":2,"d":31.2,"m":-0.2,"lo":-0.25,"hi":-0.1},{"g":2,"d":32.1,"m":-0.16,"lo":-0.4,"hi":0.2},{"g":2,"d":32.5,"m":0.07,"lo":-0.5,"hi":0.45},{"g":2,"d":33.1,"m":-0.12,"lo":-0.7,"hi":0.4},{"g":2,"d":33.5,"m":-0.35,"lo":-0.88,"hi":0.3},{"g":2,"d":34.2,"m":-0.04,"lo":-0.8,"hi":0.45},{"g":2,"d":34.9,"m":0.07,"lo":-0.6,"hi":0.55},{"g":2,"d":35.7,"m":0.22,"lo":-0.5,"hi":0.65},{"g":2,"d":36.3,"m":0.3,"lo":-0.4,"hi":0.75},{"g":2,"d":37.0,"m":0.26,"lo":-0.45,"hi":0.8},{"g":2,"d":37.6,"m":0.34,"lo":-0.4,"hi":0.78},{"g":2,"d":38.1,"m":0.19,"lo":-0.5,"hi":0.6},{"g":2,"d":38.7,"m":0.34,"lo":-0.45,"hi":0.55},{"g":2,"d":39.2,"m":0.26,"lo":-0.55,"hi":0.5},{"g":2,"d":39.7,"m":0.15,"lo":-0.65,"hi":0.45},{"g":2,"d":40.3,"m":0.03,"lo":-0.7,"hi":0.35},{"g":2,"d":40.8,"m":-0.04,"lo":-0.8,"hi":0.3},{"g":2,"d":41.3,"m":-0.08,"lo":-0.85,"hi":0.3},{"g":2,"d":41.9,"m":-0.35,"lo":-0.92,"hi":0.25},{"g":2,"d":42.4,"m":-0.23,"lo":-0.85,"hi":0.35},{"g":2,"d":43.0,"m":-0.31,"lo":-0.8,"hi":0.3},{"g":2,"d":43.5,"m":-0.2,"lo":-0.7,"hi":0.35},{"g":2,"d":44.0,"m":-0.04,"lo":-0.6,"hi":0.45},{"g":2,"d":44.6,"m":0.07,"lo":-0.4,"hi":0.5},{"g":2,"d":45.1,"m":0.15,"lo":-0.3,"hi":0.6},{"g":2,"d":45.6,"m":0.26,"lo":-0.2,"hi":0.7},{"g":2,"d":46.2,"m":0.49,"lo":0.1,"hi":0.8},{"g":2,"d":46.7,"m":0.03,"lo":-0.3,"hi":0.4},{"g":2,"d":47.2,"m":-0.5,"lo":-0.8,"hi":-0.2},{"g":2,"d":47.8,"m":-0.88,"lo":-1.1,"hi":-0.6},{"g":2,"d":48.3,"m":-1.04,"lo":-1.27,"hi":-0.8},{"g":2,"d":48.6,"m":-0.35,"lo":-0.6,"hi":-0.3}],
"l":[{"g":1,"d":16.7,"m":-1.65,"lo":-1.68,"hi":-1.62},{"g":1,"d":17.7,"m":-1.66,"lo":-1.69,"hi":-1.63},{"g":1,"d":18.8,"m":-1.69,"lo":-1.72,"hi":-1.66},{"g":1,"d":19.9,"m":-1.67,"lo":-1.7,"hi":-1.64},{"g":1,"d":20.9,"m":-1.72,"lo":-1.75,"hi":-1.69},
{"g":2,"d":34.6,"m":-0.96,"lo":-1.0,"hi":-0.92},{"g":2,"d":35.1,"m":-1.19,"lo":-1.25,"hi":-1.12},{"g":2,"d":35.6,"m":-1.3,"lo":-1.36,"hi":-1.22},{"g":2,"d":36.1,"m":-1.23,"lo":-1.3,"hi":-1.15},{"g":2,"d":36.7,"m":-1.42,"lo":-1.48,"hi":-1.35},{"g":2,"d":37.5,"m":-1.53,"lo":-1.58,"hi":-1.46},{"g":2,"d":38.5,"m":-1.5,"lo":-1.55,"hi":-1.42},{"g":2,"d":39.6,"m":-1.38,"lo":-1.44,"hi":-1.3},{"g":2,"d":40.7,"m":-1.27,"lo":-1.35,"hi":-1.15},{"g":2,"d":41.7,"m":-1.19,"lo":-1.3,"hi":-1.0},{"g":2,"d":42.8,"m":-1.15,"lo":-1.28,"hi":-0.92},{"g":2,"d":43.3,"m":-1.07,"lo":-1.22,"hi":-0.88},{"g":2,"d":43.9,"m":-1.23,"lo":-1.3,"hi":-1.05},{"g":2,"d":45.0,"m":-1.27,"lo":-1.33,"hi":-1.1},{"g":2,"d":46.0,"m":-1.25,"lo":-1.32,"hi":-1.05},{"g":2,"d":46.8,"m":-1.23,"lo":-1.3,"hi":-1.0},{"g":2,"d":47.4,"m":-1.34,"lo":-1.4,"hi":-1.2},{"g":2,"d":48.1,"m":-1.5,"lo":-1.55,"hi":-1.42},{"g":2,"d":49.2,"m":-1.56,"lo":-1.6,"hi":-1.5},{"g":2,"d":50.3,"m":-1.53,"lo":-1.58,"hi":-1.48},{"g":2,"d":51.3,"m":-1.57,"lo":-1.61,"hi":-1.52},{"g":2,"d":52.1,"m":-1.55,"lo":-1.6,"hi":-1.5},{"g":2,"d":53.0,"m":-1.65,"lo":-1.7,"hi":-1.6}],
"m":[{"g":1,"d":18.9,"m":0.44,"lo":0.4,"hi":0.46},{"g":1,"d":19.4,"m":0.38,"lo":0.32,"hi":0.42},{"g":1,"d":20.0,"m":0.37,"lo":0.31,"hi":0.42},{"g":1,"d":21.0,"m":0.38,"lo":0.33,"hi":0.41},{"g":1,"d":22.1,"m":0.37,"lo":0.32,"hi":0.4},{"g":1,"d":22.6,"m":0.39,"lo":0.35,"hi":0.42},{"g":1,"d":23.2,"m":0.36,"lo":0.32,"hi":0.4},{"g":1,"d":24.3,"m":0.35,"lo":0.31,"hi":0.38},{"g":1,"d":24.8,"m":0.34,"lo":0.3,"hi":0.37},{"g":1,"d":25.9,"m":0.36,"lo":0.32,"hi":0.4},{"g":1,"d":26.9,"m":0.4,"lo":0.34,"hi":0.44},{"g":1,"d":27.5,"m":0.47,"lo":0.4,"hi":0.52},{"g":1,"d":28.0,"m":0.5,"lo":0.42,"hi":0.56},{"g":1,"d":28.5,"m":0.44,"lo":0.36,"hi":0.52},{"g":1,"d":29.1,"m":0.48,"lo":0.4,"hi":0.56},{"g":1,"d":29.6,"m":0.57,"lo":0.5,"hi":0.62},{"g":1,"d":30.1,"m":0.63,"lo":0.56,"hi":0.68},{"g":1,"d":30.7,"m":0.66,"lo":0.6,"hi":0.7},{"g":1,"d":31.2,"m":0.63,"lo":0.58,"hi":0.68},{"g":1,"d":31.7,"m":0.67,"lo":0.62,"hi":0.72},{"g":1,"d":32.6,"m":0.71,"lo":0.66,"hi":0.74},{"g":1,"d":33.3,"m":0.7,"lo":0.65,"hi":0.73},{"g":1,"d":33.9,"m":0.67,"lo":0.63,"hi":0.72},{"g":1,"d":35.0,"m":0.68,"lo":0.64,"hi":0.72},{"g":1,"d":35.8,"m":0.67,"lo":0.62,"hi":0.72},{"g":1,"d":36.5,"m":0.71,"lo":0.66,"hi":0.75},{"g":1,"d":37.1,"m":0.68,"lo":0.63,"hi":0.72},{"g":1,"d":37.6,"m":0.67,"lo":0.62,"hi":0.74},{"g":1,"d":38.1,"m":0.73,"lo":0.66,"hi":0.76},{"g":1,"d":38.7,"m":0.64,"lo":0.58,"hi":0.68},{"g":1,"d":39.2,"m":0.47,"lo":0.44,"hi":0.5},
{"g":2,"d":51.5,"m":0.44,"lo":0.42,"hi":0.48},{"g":2,"d":51.8,"m":0.61,"lo":0.55,"hi":0.7},{"g":2,"d":52.3,"m":0.73,"lo":0.65,"hi":0.85},{"g":2,"d":52.8,"m":0.78,"lo":0.7,"hi":0.91},{"g":2,"d":53.4,"m":0.7,"lo":0.6,"hi":0.85},{"g":2,"d":54.0,"m":0.58,"lo":0.45,"hi":0.72},{"g":2,"d":54.7,"m":0.51,"lo":0.4,"hi":0.65},{"g":2,"d":55.2,"m":0.5,"lo":0.38,"hi":0.62},{"g":2,"d":55.8,"m":0.58,"lo":0.45,"hi":0.66},{"g":2,"d":56.3,"m":0.64,"lo":0.55,"hi":0.68},{"g":2,"d":56.8,"m":0.67,"lo":0.62,"hi":0.7},{"g":2,"d":57.9,"m":0.68,"lo":0.65,"hi":0.71},{"g":2,"d":59.0,"m":0.7,"lo":0.67,"hi":0.72},{"g":2,"d":60.0,"m":0.71,"lo":0.68,"hi":0.73},{"g":2,"d":61.1,"m":0.73,"lo":0.7,"hi":0.75},{"g":2,"d":61.8,"m":0.7,"lo":0.66,"hi":0.73},{"g":2,"d":62.4,"m":0.63,"lo":0.56,"hi":0.68},{"g":2,"d":62.9,"m":0.67,"lo":0.62,"hi":0.72},{"g":2,"d":63.5,"m":0.73,"lo":0.7,"hi":0.76},{"g":2,"d":64.3,"m":0.7,"lo":0.67,"hi":0.73},{"g":2,"d":64.8,"m":0.68,"lo":0.66,"hi":0.71}],
"n":[{"g":1,"d":13.7,"m":0.21,"lo":0.19,"hi":0.23},{"g":1,"d":14.7,"m":0.18,"lo":0.16,"hi":0.21},{"g":1,"d":15.8,"m":0.15,"lo":0.13,"hi":0.18},{"g":1,"d":16.9,"m":0.15,"lo":0.13,"hi":0.18},{"g":1,"d":17.9,"m":0.17,"lo":0.15,"hi":0.2},{"g":1,"d":19.0,"m":0.2,"lo":0.18,"hi":0.22},{"g":1,"d":20.1,"m":0.21,"lo":0.19,"hi":0.23},{"g":1,"d":21.2,"m":0.22,"lo":0.2,"hi":0.25},{"g":1,"d":21.7,"m":0.25,"lo":0.22,"hi":0.3},{"g":1,"d":22.2,"m":0.32,"lo":0.27,"hi":0.4},{"g":1,"d":22.8,"m":0.41,"lo":0.34,"hi":0.52},{"g":1,"d":23.3,"m":0.53,"lo":0.44,"hi":0.62},{"g":1,"d":23.9,"m":0.58,"lo":0.52,"hi":0.72},{"g":1,"d":24.4,"m":0.66,"lo":0.6,"hi":0.77},{"g":1,"d":24.9,"m":0.68,"lo":0.62,"hi":0.76},{"g":1,"d":25.4,"m":0.7,"lo":0.63,"hi":0.74},{"g":1,"d":26.3,"m":0.7,"lo":0.62,"hi":0.74},{"g":1,"d":26.7,"m":0.68,"lo":0.6,"hi":0.76},{"g":1,"d":27.4,"m":0.76,"lo":0.7,"hi":0.8},{"g":1,"d":28.1,"m":0.77,"lo":0.72,"hi":0.8},{"g":1,"d":28.8,"m":0.8,"lo":0.76,"hi":0.84},{"g":1,"d":29.5,"m":0.78,"lo":0.74,"hi":0.82},{"g":1,"d":29.9,"m":0.53,"lo":0.5,"hi":0.56},
{"g":2,"d":44.3,"m":0.35,"lo":0.25,"hi":0.42},{"g":2,"d":44.5,"m":0.53,"lo":0.45,"hi":0.62},{"g":2,"d":45.0,"m":0.76,"lo":0.65,"hi":0.85},{"g":2,"d":45.4,"m":0.9,"lo":0.8,"hi":1.0},{"g":2,"d":45.8,"m":0.99,"lo":0.9,"hi":1.08},{"g":2,"d":46.2,"m":1.04,"lo":0.95,"hi":1.12},{"g":2,"d":47.1,"m":1.01,"lo":0.92,"hi":1.1},{"g":2,"d":47.5,"m":0.91,"lo":0.85,"hi":1.0},{"g":2,"d":47.8,"m":0.84,"lo":0.8,"hi":0.95},{"g":2,"d":48.3,"m":0.96,"lo":0.88,"hi":1.05},{"g":2,"d":48.9,"m":1.07,"lo":0.98,"hi":1.15},{"g":2,"d":49.4,"m":1.14,"lo":1.06,"hi":1.2},{"g":2,"d":50.3,"m":1.13,"lo":1.06,"hi":1.2},{"g":2,"d":51.3,"m":1.11,"lo":1.04,"hi":1.18},{"g":2,"d":52.4,"m":1.1,"lo":1.03,"hi":1.17},{"g":2,"d":53.5,"m":1.09,"lo":1.03,"hi":1.16},{"g":2,"d":54.5,"m":1.07,"lo":1.0,"hi":1.14},{"g":2,"d":55.2,"m":1.11,"lo":1.05,"hi":1.18},{"g":2,"d":55.8,"m":1.19,"lo":1.1,"hi":1.22},{"g":2,"d":56.3,"m":1.16,"lo":1.08,"hi":1.22},{"g":2,"d":56.6,"m":1.01,"lo":0.95,"hi":1.08},{"g":2,"d":56.8,"m":1.07,"lo":1.0,"hi":1.12},{"g":2,"d":57.1,"m":1.19,"lo":1.1,"hi":1.22}],
"o":[{"g":1,"d":4.1,"m":-0.06,"lo":-0.08,"hi":-0.04},{"g":1,"d":4.4,"m":0.02,"lo":0.0,"hi":0.04},{"g":1,"d":4.8,"m":0.04,"lo":0.02,"hi":0.06},{"g":1,"d":5.5,"m":0.05,"lo":0.03,"hi":0.07},{"g":1,"d":5.9,"m":0.07,"lo":0.05,"hi":0.09},{"g":1,"d":6.3,"m":0.11,"lo":0.09,"hi":0.13},{"g":1,"d":7.0,"m":0.09,"lo":0.07,"hi":0.12},{"g":1,"d":7.6,"m":0.08,"lo":0.06,"hi":0.11},{"g":1,"d":8.3,"m":0.11,"lo":0.09,"hi":0.14},{"g":1,"d":9.1,"m":0.12,"lo":0.1,"hi":0.15},{"g":1,"d":9.7,"m":0.15,"lo":0.13,"hi":0.18},{"g":1,"d":10.4,"m":0.2,"lo":0.17,"hi":0.22},{"g":1,"d":11.2,"m":0.21,"lo":0.19,"hi":0.23},{"g":1,"d":11.8,"m":0.2,"lo":0.18,"hi":0.22},
{"g":2,"d":31.2,"m":0.28,"lo":0.25,"hi":0.31},{"g":2,"d":32.1,"m":0.24,"lo":0.2,"hi":0.3},{"g":2,"d":32.5,"m":0.2,"lo":0.15,"hi":0.26},{"g":2,"d":33.1,"m":0.3,"lo":0.24,"hi":0.36},{"g":2,"d":33.5,"m":0.35,"lo":0.28,"hi":0.42},{"g":2,"d":34.2,"m":0.38,"lo":0.32,"hi":0.45},{"g":2,"d":34.9,"m":0.35,"lo":0.3,"hi":0.46},{"g":2,"d":35.7,"m":0.4,"lo":0.34,"hi":0.47},{"g":2,"d":36.3,"m":0.44,"lo":0.36,"hi":0.5},{"g":2,"d":37.0,"m":0.34,"lo":0.28,"hi":0.44},{"g":2,"d":37.6,"m":0.35,"lo":0.3,"hi":0.42},{"g":2,"d":38.1,"m":0.4,"lo":0.34,"hi":0.46},{"g":2,"d":38.7,"m":0.43,"lo":0.36,"hi":0.47},{"g":2,"d":39.2,"m":0.38,"lo":0.3,"hi":0.43},{"g":2,"d":39.7,"m":0.32,"lo":0.26,"hi":0.38},{"g":2,"d":40.3,"m":0.28,"lo":0.22,"hi":0.34},{"g":2,"d":40.8,"m":0.27,"lo":0.21,"hi":0.33},{"g":2,"d":41.9,"m":0.22,"lo":0.18,"hi":0.28},{"g":2,"d":42.7,"m":0.25,"lo":0.2,"hi":0.3},{"g":2,"d":43.5,"m":0.24,"lo":0.2,"hi":0.28},{"g":2,"d":44.2,"m":0.25,"lo":0.21,"hi":0.3},{"g":2,"d":45.1,"m":0.28,"lo":0.23,"hi":0.33},{"g":2,"d":45.9,"m":0.32,"lo":0.26,"hi":0.38},{"g":2,"d":46.3,"m":0.35,"lo":0.28,"hi":0.42},{"g":2,"d":47.0,"m":0.27,"lo":0.22,"hi":0.32},{"g":2,"d":47.7,"m":0.24,"lo":0.2,"hi":0.28},{"g":2,"d":48.3,"m":0.21,"lo":0.18,"hi":0.25},{"g":2,"d":48.6,"m":0.31,"lo":0.22,"hi":0.33}],
"p":[{"g":1,"d":17.0,"m":0.07,"lo":0.06,"hi":0.08},{"g":1,"d":17.7,"m":0.08,"lo":0.07,"hi":0.09},{"g":1,"d":18.6,"m":0.08,"lo":0.07,"hi":0.09},{"g":1,"d":19.3,"m":0.09,"lo":0.08,"hi":0.1},{"g":1,"d":20.1,"m":0.11,"lo":0.1,"hi":0.12},{"g":1,"d":20.7,"m":0.15,"lo":0.14,"hi":0.16},{"g":1,"d":20.9,"m":0.22,"lo":0.21,"hi":0.23},
{"g":2,"d":34.6,"m":0.35,"lo":0.3,"hi":0.4},{"g":2,"d":35.0,"m":0.31,"lo":0.25,"hi":0.38},{"g":2,"d":35.7,"m":0.21,"lo":0.14,"hi":0.3},{"g":2,"d":36.1,"m":0.25,"lo":0.15,"hi":0.35},{"g":2,"d":36.8,"m":0.21,"lo":0.1,"hi":0.34},{"g":2,"d":37.5,"m":0.24,"lo":0.09,"hi":0.38},{"g":2,"d":38.0,"m":0.28,"lo":0.12,"hi":0.42},{"g":2,"d":38.6,"m":0.35,"lo":0.18,"hi":0.48},{"g":2,"d":39.1,"m":0.4,"lo":0.22,"hi":0.52},{"g":2,"d":39.6,"m":0.43,"lo":0.25,"hi":0.56},{"g":2,"d":40.4,"m":0.47,"lo":0.28,"hi":0.6},{"g":2,"d":41.0,"m":0.44,"lo":0.27,"hi":0.58},{"g":2,"d":41.5,"m":0.47,"lo":0.28,"hi":0.6},{"g":2,"d":42.1,"m":0.43,"lo":0.26,"hi":0.57},{"g":2,"d":42.8,"m":0.45,"lo":0.27,"hi":0.6},{"g":2,"d":43.6,"m":0.44,"lo":0.26,"hi":0.58},{"g":2,"d":44.4,"m":0.43,"lo":0.27,"hi":0.56},{"g":2,"d":45.3,"m":0.44,"lo":0.27,"hi":0.58},{"g":2,"d":46.0,"m":0.44,"lo":0.28,"hi":0.6},{"g":2,"d":46.8,"m":0.45,"lo":0.3,"hi":0.58},{"g":2,"d":47.4,"m":0.4,"lo":0.28,"hi":0.52},{"g":2,"d":47.9,"m":0.3,"lo":0.22,"hi":0.4},{"g":2,"d":48.5,"m":0.22,"lo":0.16,"hi":0.3},{"g":2,"d":49.3,"m":0.2,"lo":0.14,"hi":0.26},{"g":2,"d":49.8,"m":0.18,"lo":0.12,"hi":0.24},{"g":2,"d":50.3,"m":0.21,"lo":0.15,"hi":0.26},{"g":2,"d":51.1,"m":0.15,"lo":0.1,"hi":0.2},{"g":2,"d":51.9,"m":0.17,"lo":0.12,"hi":0.22},{"g":2,"d":52.8,"m":0.11,"lo":0.06,"hi":0.15}]
},
"concat":[
{"width":202,"height":151,"data":{"name":"a"},"title":"2008/2009","layer":[
 {"mark":{"type":"line","color":"#c3c3c3","strokeWidth":1.3,"clip":true},"encoding":{"x":{"field":"d","type":"quantitative","scale":{"domain":[0,65],"nice":false,"zero":false},"axis":{"values":[14,28,42,56],"labels":false,"title":null,"minExtent":0,"maxExtent":0}},"y":{"field":"hi","type":"quantitative","scale":{"domain":[1,2.4],"nice":false,"zero":false},"axis":{"values":[1.2,1.4,1.6,1.8,2,2.2],"tickCount":12,"format":"~g","title":"ΩA","labelOverlap":false,"labelPadding":7,"minExtent":35,"maxExtent":35,"titlePadding":12}},"detail":{"field":"g"}}},
 {"mark":{"type":"line","color":"#c3c3c3","strokeWidth":1.3,"clip":true},"encoding":{"x":{"field":"d","type":"quantitative"},"y":{"field":"lo","type":"quantitative"},"detail":{"field":"g"}}},
 {"mark":{"type":"line","color":"black","strokeWidth":2.2,"clip":true},"encoding":{"x":{"field":"d","type":"quantitative"},"y":{"field":"m","type":"quantitative"},"detail":{"field":"g"}}},
 {"data":{"values":[{}]},"mark":{"type":"rule","color":"black","strokeWidth":1,"strokeDash":[14,15]},"encoding":{"x":{"datum":0},"x2":{"datum":65},"y":{"datum":1.3}}},
 {"data":{"values":[{"t":"WW"}]},"mark":{"type":"text","align":"left","baseline":"alphabetic","dx":3},"encoding":{"x":{"datum":0},"y":{"datum":1.3},"text":{"field":"t"}}},
 {"data":{"values":[{"t":"(a)"}]},"mark":{"type":"text","align":"left","baseline":"top","dx":3,"dy":4},"encoding":{"x":{"datum":0},"y":{"datum":2.4},"text":{"field":"t"}}}
]},
{"width":202,"height":151,"data":{"name":"b"},"title":"2009/2010","layer":[
 {"mark":{"type":"line","color":"#c3c3c3","strokeWidth":1.3,"clip":true},"encoding":{"x":{"field":"d","type":"quantitative","scale":{"domain":[0,65],"nice":false,"zero":false},"axis":{"values":[14,28,42,56],"labels":false,"title":null,"minExtent":0,"maxExtent":0}},"y":{"field":"hi","type":"quantitative","scale":{"domain":[1,2.4],"nice":false,"zero":false},"axis":{"values":[1.2,1.4,1.6,1.8,2,2.2],"tickCount":12,"labels":false,"title":null,"minExtent":0,"maxExtent":0}},"detail":{"field":"g"}}},
 {"mark":{"type":"line","color":"#c3c3c3","strokeWidth":1.3,"clip":true},"encoding":{"x":{"field":"d","type":"quantitative"},"y":{"field":"lo","type":"quantitative"},"detail":{"field":"g"}}},
 {"mark":{"type":"line","color":"black","strokeWidth":2.2,"clip":true},"encoding":{"x":{"field":"d","type":"quantitative"},"y":{"field":"m","type":"quantitative"},"detail":{"field":"g"}}},
 {"data":{"values":[{}]},"mark":{"type":"rule","color":"black","strokeWidth":1,"strokeDash":[14,15]},"encoding":{"x":{"datum":0},"x2":{"datum":65},"y":{"datum":1.3}}},
 {"data":{"values":[{"t":"WW"}]},"mark":{"type":"text","align":"left","baseline":"alphabetic","dx":3},"encoding":{"x":{"datum":0},"y":{"datum":1.3},"text":{"field":"t"}}},
 {"data":{"values":[{"t":"(b)"}]},"mark":{"type":"text","align":"left","baseline":"top","dx":3,"dy":4},"encoding":{"x":{"datum":0},"y":{"datum":2.4},"text":{"field":"t"}}}
]},
{"width":202,"height":151,"data":{"name":"c"},"title":"2010/2011","layer":[
 {"mark":{"type":"line","color":"#c3c3c3","strokeWidth":1.3,"clip":true},"encoding":{"x":{"field":"d","type":"quantitative","scale":{"domain":[0,65],"nice":false,"zero":false},"axis":{"values":[14,28,42,56],"labels":false,"title":null,"minExtent":0,"maxExtent":0}},"y":{"field":"hi","type":"quantitative","scale":{"domain":[1,2.4],"nice":false,"zero":false},"axis":{"values":[1.2,1.4,1.6,1.8,2,2.2],"tickCount":12,"labels":false,"title":null,"minExtent":0,"maxExtent":0}},"detail":{"field":"g"}}},
 {"mark":{"type":"line","color":"#c3c3c3","strokeWidth":1.3,"clip":true},"encoding":{"x":{"field":"d","type":"quantitative"},"y":{"field":"lo","type":"quantitative"},"detail":{"field":"g"}}},
 {"mark":{"type":"line","color":"black","strokeWidth":2.2,"clip":true},"encoding":{"x":{"field":"d","type":"quantitative"},"y":{"field":"m","type":"quantitative"},"detail":{"field":"g"}}},
 {"data":{"values":[{}]},"mark":{"type":"rule","color":"black","strokeWidth":1,"strokeDash":[14,15]},"encoding":{"x":{"datum":0},"x2":{"datum":65},"y":{"datum":1.3}}},
 {"data":{"values":[{"t":"WW"}]},"mark":{"type":"text","align":"left","baseline":"alphabetic","dx":3},"encoding":{"x":{"datum":0},"y":{"datum":1.3},"text":{"field":"t"}}},
 {"data":{"values":[{"t":"(c)"}]},"mark":{"type":"text","align":"left","baseline":"top","dx":3,"dy":4},"encoding":{"x":{"datum":0},"y":{"datum":2.4},"text":{"field":"t"}}}
]},
{"width":193,"height":151,"data":{"name":"d"},"title":"2011/2012","layer":[
 {"mark":{"type":"line","color":"#c3c3c3","strokeWidth":1.3,"clip":true},"encoding":{"x":{"field":"d","type":"quantitative","scale":{"domain":[0,62.1],"nice":false,"zero":false},"axis":{"values":[14,28,42,56],"labels":false,"title":null,"minExtent":0,"maxExtent":0}},"y":{"field":"hi","type":"quantitative","scale":{"domain":[1,2.4],"nice":false,"zero":false},"axis":{"values":[1.2,1.4,1.6,1.8,2,2.2],"tickCount":12,"labels":false,"title":null,"minExtent":0,"maxExtent":0}},"detail":{"field":"g"}}},
 {"mark":{"type":"line","color":"#c3c3c3","strokeWidth":1.3,"clip":true},"encoding":{"x":{"field":"d","type":"quantitative"},"y":{"field":"lo","type":"quantitative"},"detail":{"field":"g"}}},
 {"mark":{"type":"line","color":"#10102a","strokeWidth":2.2,"clip":true},"encoding":{"x":{"field":"d","type":"quantitative"},"y":{"field":"m","type":"quantitative"},"detail":{"field":"g"}}},
 {"data":{"values":[{}]},"mark":{"type":"rule","color":"black","strokeWidth":1,"strokeDash":[14,15]},"encoding":{"x":{"datum":0},"x2":{"datum":62.1},"y":{"datum":1.3}}},
 {"data":{"values":[{"t":"WW"}]},"mark":{"type":"text","align":"left","baseline":"alphabetic","dx":3},"encoding":{"x":{"datum":0},"y":{"datum":1.3},"text":{"field":"t"}}},
 {"data":{"values":[{"t":"(d)"}]},"mark":{"type":"text","align":"left","baseline":"top","dx":3,"dy":4},"encoding":{"x":{"datum":0},"y":{"datum":2.4},"text":{"field":"t"}}}
]},
{"width":202,"height":151,"data":{"name":"e"},"layer":[
 {"mark":{"type":"line","color":"#c3c3c3","strokeWidth":1.3,"clip":true},"encoding":{"x":{"field":"d","type":"quantitative","scale":{"domain":[0,65],"nice":false,"zero":false},"axis":{"values":[14,28,42,56],"labels":false,"title":null,"minExtent":0,"maxExtent":0}},"y":{"field":"hi","type":"quantitative","scale":{"domain":[32.9,34.5],"nice":false,"zero":false},"axis":{"values":[33.1,33.3,33.5,33.7,33.9,34.1,34.3],"tickCount":12,"format":"~g","title":"Salinity","labelOverlap":false,"labelPadding":7,"minExtent":35,"maxExtent":35,"titlePadding":12}},"detail":{"field":"g"}}},
 {"mark":{"type":"line","color":"#c3c3c3","strokeWidth":1.3,"clip":true},"encoding":{"x":{"field":"d","type":"quantitative"},"y":{"field":"lo","type":"quantitative"},"detail":{"field":"g"}}},
 {"mark":{"type":"line","color":"black","strokeWidth":2.2,"clip":true},"encoding":{"x":{"field":"d","type":"quantitative"},"y":{"field":"m","type":"quantitative"},"detail":{"field":"g"}}},
 {"data":{"values":[{"t":"(e)"}]},"mark":{"type":"text","align":"left","baseline":"top","dx":3,"dy":4},"encoding":{"x":{"datum":0},"y":{"datum":34.5},"text":{"field":"t"}}}
]},
{"width":202,"height":151,"data":{"name":"f"},"layer":[
 {"mark":{"type":"line","color":"#c3c3c3","strokeWidth":1.3,"clip":true},"encoding":{"x":{"field":"d","type":"quantitative","scale":{"domain":[0,65],"nice":false,"zero":false},"axis":{"values":[14,28,42,56],"labels":false,"title":null,"minExtent":0,"maxExtent":0}},"y":{"field":"hi","type":"quantitative","scale":{"domain":[32.9,34.5],"nice":false,"zero":false},"axis":{"values":[33.1,33.3,33.5,33.7,33.9,34.1,34.3],"tickCount":12,"labels":false,"title":null,"minExtent":0,"maxExtent":0}},"detail":{"field":"g"}}},
 {"mark":{"type":"line","color":"#c3c3c3","strokeWidth":1.3,"clip":true},"encoding":{"x":{"field":"d","type":"quantitative"},"y":{"field":"lo","type":"quantitative"},"detail":{"field":"g"}}},
 {"mark":{"type":"line","color":"black","strokeWidth":2.2,"clip":true},"encoding":{"x":{"field":"d","type":"quantitative"},"y":{"field":"m","type":"quantitative"},"detail":{"field":"g"}}},
 {"data":{"values":[{"t":"(f)"}]},"mark":{"type":"text","align":"left","baseline":"top","dx":3,"dy":4},"encoding":{"x":{"datum":0},"y":{"datum":34.5},"text":{"field":"t"}}}
]},
{"width":202,"height":151,"data":{"name":"g"},"layer":[
 {"mark":{"type":"line","color":"#c3c3c3","strokeWidth":1.3,"clip":true},"encoding":{"x":{"field":"d","type":"quantitative","scale":{"domain":[0,65],"nice":false,"zero":false},"axis":{"values":[14,28,42,56],"labels":false,"title":null,"minExtent":0,"maxExtent":0}},"y":{"field":"hi","type":"quantitative","scale":{"domain":[32.9,34.5],"nice":false,"zero":false},"axis":{"values":[33.1,33.3,33.5,33.7,33.9,34.1,34.3],"tickCount":12,"labels":false,"title":null,"minExtent":0,"maxExtent":0}},"detail":{"field":"g"}}},
 {"mark":{"type":"line","color":"#c3c3c3","strokeWidth":1.3,"clip":true},"encoding":{"x":{"field":"d","type":"quantitative"},"y":{"field":"lo","type":"quantitative"},"detail":{"field":"g"}}},
 {"mark":{"type":"line","color":"black","strokeWidth":2.2,"clip":true},"encoding":{"x":{"field":"d","type":"quantitative"},"y":{"field":"m","type":"quantitative"},"detail":{"field":"g"}}},
 {"data":{"values":[{"t":"(g)"}]},"mark":{"type":"text","align":"left","baseline":"top","dx":3,"dy":4},"encoding":{"x":{"datum":0},"y":{"datum":34.5},"text":{"field":"t"}}}
]},
{"width":193,"height":151,"data":{"name":"h"},"layer":[
 {"mark":{"type":"line","color":"#c3c3c3","strokeWidth":1.3,"clip":true},"encoding":{"x":{"field":"d","type":"quantitative","scale":{"domain":[0,62.1],"nice":false,"zero":false},"axis":{"values":[14,28,42,56],"labels":false,"title":null,"minExtent":0,"maxExtent":0}},"y":{"field":"hi","type":"quantitative","scale":{"domain":[32.9,34.5],"nice":false,"zero":false},"axis":{"values":[33.1,33.3,33.5,33.7,33.9,34.1,34.3],"tickCount":12,"labels":false,"title":null,"minExtent":0,"maxExtent":0}},"detail":{"field":"g"}}},
 {"mark":{"type":"line","color":"#c3c3c3","strokeWidth":1.3,"clip":true},"encoding":{"x":{"field":"d","type":"quantitative"},"y":{"field":"lo","type":"quantitative"},"detail":{"field":"g"}}},
 {"mark":{"type":"line","color":"black","strokeWidth":2.2,"clip":true},"encoding":{"x":{"field":"d","type":"quantitative"},"y":{"field":"m","type":"quantitative"},"detail":{"field":"g"}}},
 {"data":{"values":[{"t":"(h)"}]},"mark":{"type":"text","align":"left","baseline":"top","dx":3,"dy":4},"encoding":{"x":{"datum":0},"y":{"datum":34.5},"text":{"field":"t"}}}
]},
{"width":202,"height":151,"data":{"name":"i"},"layer":[
 {"mark":{"type":"line","color":"#c3c3c3","strokeWidth":1.3,"clip":true},"encoding":{"x":{"field":"d","type":"quantitative","scale":{"domain":[0,65],"nice":false,"zero":false},"axis":{"values":[14,28,42,56],"labels":false,"title":null,"minExtent":0,"maxExtent":0}},"y":{"field":"hi","type":"quantitative","scale":{"domain":[-2.5,1],"nice":false,"zero":false},"axis":{"values":[-2,-1.5,-1,-0.5,0,0.5],"tickCount":12,"format":"~g","title":"SST (°C)","labelOverlap":false,"labelPadding":7,"minExtent":35,"maxExtent":35,"titlePadding":12}},"detail":{"field":"g"}}},
 {"mark":{"type":"line","color":"#c3c3c3","strokeWidth":1.3,"clip":true},"encoding":{"x":{"field":"d","type":"quantitative"},"y":{"field":"lo","type":"quantitative"},"detail":{"field":"g"}}},
 {"mark":{"type":"line","color":"black","strokeWidth":2.2,"clip":true},"encoding":{"x":{"field":"d","type":"quantitative"},"y":{"field":"m","type":"quantitative"},"detail":{"field":"g"}}},
 {"data":{"values":[{"t":"(i)"}]},"mark":{"type":"text","align":"left","baseline":"top","dx":3,"dy":4},"encoding":{"x":{"datum":0},"y":{"datum":1},"text":{"field":"t"}}}
]},
{"width":202,"height":151,"data":{"name":"j"},"layer":[
 {"mark":{"type":"line","color":"#c3c3c3","strokeWidth":1.3,"clip":true},"encoding":{"x":{"field":"d","type":"quantitative","scale":{"domain":[0,65],"nice":false,"zero":false},"axis":{"values":[14,28,42,56],"labels":false,"title":null,"minExtent":0,"maxExtent":0}},"y":{"field":"hi","type":"quantitative","scale":{"domain":[-2.5,1],"nice":false,"zero":false},"axis":{"values":[-2,-1.5,-1,-0.5,0,0.5],"tickCount":12,"labels":false,"title":null,"minExtent":0,"maxExtent":0}},"detail":{"field":"g"}}},
 {"mark":{"type":"line","color":"#c3c3c3","strokeWidth":1.3,"clip":true},"encoding":{"x":{"field":"d","type":"quantitative"},"y":{"field":"lo","type":"quantitative"},"detail":{"field":"g"}}},
 {"mark":{"type":"line","color":"black","strokeWidth":2.2,"clip":true},"encoding":{"x":{"field":"d","type":"quantitative"},"y":{"field":"m","type":"quantitative"},"detail":{"field":"g"}}},
 {"data":{"values":[{"t":"(j)"}]},"mark":{"type":"text","align":"left","baseline":"top","dx":3,"dy":4},"encoding":{"x":{"datum":0},"y":{"datum":1},"text":{"field":"t"}}}
]},
{"width":202,"height":151,"data":{"name":"k"},"layer":[
 {"mark":{"type":"line","color":"#c3c3c3","strokeWidth":1.3,"clip":true},"encoding":{"x":{"field":"d","type":"quantitative","scale":{"domain":[0,65],"nice":false,"zero":false},"axis":{"values":[14,28,42,56],"labels":false,"title":null,"minExtent":0,"maxExtent":0}},"y":{"field":"hi","type":"quantitative","scale":{"domain":[-2.5,1],"nice":false,"zero":false},"axis":{"values":[-2,-1.5,-1,-0.5,0,0.5],"tickCount":12,"labels":false,"title":null,"minExtent":0,"maxExtent":0}},"detail":{"field":"g"}}},
 {"mark":{"type":"line","color":"#c3c3c3","strokeWidth":1.3,"clip":true},"encoding":{"x":{"field":"d","type":"quantitative"},"y":{"field":"lo","type":"quantitative"},"detail":{"field":"g"}}},
 {"mark":{"type":"line","color":"black","strokeWidth":2.2,"clip":true},"encoding":{"x":{"field":"d","type":"quantitative"},"y":{"field":"m","type":"quantitative"},"detail":{"field":"g"}}},
 {"data":{"values":[{"t":"(k)"}]},"mark":{"type":"text","align":"left","baseline":"top","dx":3,"dy":4},"encoding":{"x":{"datum":0},"y":{"datum":1},"text":{"field":"t"}}}
]},
{"width":193,"height":151,"data":{"name":"l"},"layer":[
 {"mark":{"type":"line","color":"#c3c3c3","strokeWidth":1.3,"clip":true},"encoding":{"x":{"field":"d","type":"quantitative","scale":{"domain":[0,62.1],"nice":false,"zero":false},"axis":{"values":[14,28,42,56],"labels":false,"title":null,"minExtent":0,"maxExtent":0}},"y":{"field":"hi","type":"quantitative","scale":{"domain":[-2.5,1],"nice":false,"zero":false},"axis":{"values":[-2,-1.5,-1,-0.5,0,0.5],"tickCount":12,"labels":false,"title":null,"minExtent":0,"maxExtent":0}},"detail":{"field":"g"}}},
 {"mark":{"type":"line","color":"#c3c3c3","strokeWidth":1.3,"clip":true},"encoding":{"x":{"field":"d","type":"quantitative"},"y":{"field":"lo","type":"quantitative"},"detail":{"field":"g"}}},
 {"mark":{"type":"line","color":"black","strokeWidth":2.2,"clip":true},"encoding":{"x":{"field":"d","type":"quantitative"},"y":{"field":"m","type":"quantitative"},"detail":{"field":"g"}}},
 {"data":{"values":[{"t":"(l)"}]},"mark":{"type":"text","align":"left","baseline":"top","dx":3,"dy":4},"encoding":{"x":{"datum":0},"y":{"datum":1},"text":{"field":"t"}}}
]},
{"width":202,"height":151,"data":{"name":"m"},"layer":[
 {"mark":{"type":"line","color":"#c3c3c3","strokeWidth":1.3,"clip":true},"encoding":{"x":{"field":"d","type":"quantitative","scale":{"domain":[0,65],"nice":false,"zero":false},"axis":{"values":[0,14,28,42,56],"title":null,"labelOverlap":false,"labelPadding":7,"labelExpr":"datum.value==0?'17/12':datum.value==14?'31/12':datum.value==28?'14/01':datum.value==42?'28/01':'11/02'","labelOffset":{"condition":{"test":"datum.value<=14","value":-29},"value":0}}},"y":{"field":"hi","type":"quantitative","scale":{"domain":[-0.1,1.2],"nice":false,"zero":false},"axis":{"values":[0,0.2,0.4,0.6,0.8,1],"tickCount":12,"format":"~g","title":"Δρ (kg.m⁻³)","labelOverlap":false,"labelPadding":7,"minExtent":35,"maxExtent":35,"titlePadding":12}},"detail":{"field":"g"}}},
 {"mark":{"type":"line","color":"#c3c3c3","strokeWidth":1.3,"clip":true},"encoding":{"x":{"field":"d","type":"quantitative"},"y":{"field":"lo","type":"quantitative"},"detail":{"field":"g"}}},
 {"mark":{"type":"line","color":"black","strokeWidth":2.2,"clip":true},"encoding":{"x":{"field":"d","type":"quantitative"},"y":{"field":"m","type":"quantitative"},"detail":{"field":"g"}}},
 {"data":{"values":[{"t":"(m)"}]},"mark":{"type":"text","align":"left","baseline":"top","dx":3,"dy":4},"encoding":{"x":{"datum":0},"y":{"datum":1.2},"text":{"field":"t"}}}
]},
{"width":202,"height":151,"data":{"name":"n"},"layer":[
 {"mark":{"type":"line","color":"#c3c3c3","strokeWidth":1.3,"clip":true},"encoding":{"x":{"field":"d","type":"quantitative","scale":{"domain":[0,65],"nice":false,"zero":false},"axis":{"values":[14,28,42,56],"title":null,"labelOverlap":false,"labelPadding":7,"labelExpr":"datum.value==14?'31/12':datum.value==28?'14/01':datum.value==42?'28/01':'11/02'"}},"y":{"field":"hi","type":"quantitative","scale":{"domain":[-0.1,1.2],"nice":false,"zero":false},"axis":{"values":[0,0.2,0.4,0.6,0.8,1],"tickCount":12,"labels":false,"title":null,"minExtent":0,"maxExtent":0}},"detail":{"field":"g"}}},
 {"mark":{"type":"line","color":"#c3c3c3","strokeWidth":1.3,"clip":true},"encoding":{"x":{"field":"d","type":"quantitative"},"y":{"field":"lo","type":"quantitative"},"detail":{"field":"g"}}},
 {"mark":{"type":"line","color":"black","strokeWidth":2.2,"clip":true},"encoding":{"x":{"field":"d","type":"quantitative"},"y":{"field":"m","type":"quantitative"},"detail":{"field":"g"}}},
 {"data":{"values":[{"t":"(n)"}]},"mark":{"type":"text","align":"left","baseline":"top","dx":3,"dy":4},"encoding":{"x":{"datum":0},"y":{"datum":1.2},"text":{"field":"t"}}}
]},
{"width":202,"height":151,"data":{"name":"o"},"layer":[
 {"mark":{"type":"line","color":"#c3c3c3","strokeWidth":1.3,"clip":true},"encoding":{"x":{"field":"d","type":"quantitative","scale":{"domain":[0,65],"nice":false,"zero":false},"axis":{"values":[14,28,42,56],"title":null,"labelOverlap":false,"labelPadding":7,"labelExpr":"datum.value==14?'31/12':datum.value==28?'14/01':datum.value==42?'28/01':'11/02'","labelOffset":{"condition":{"test":"datum.value<=28","value":-18},"value":-14}}},"y":{"field":"hi","type":"quantitative","scale":{"domain":[-0.1,1.2],"nice":false,"zero":false},"axis":{"values":[0,0.2,0.4,0.6,0.8,1],"tickCount":12,"labels":false,"title":null,"minExtent":0,"maxExtent":0}},"detail":{"field":"g"}}},
 {"mark":{"type":"line","color":"#c3c3c3","strokeWidth":1.3,"clip":true},"encoding":{"x":{"field":"d","type":"quantitative"},"y":{"field":"lo","type":"quantitative"},"detail":{"field":"g"}}},
 {"mark":{"type":"line","color":"black","strokeWidth":2.2,"clip":true},"encoding":{"x":{"field":"d","type":"quantitative"},"y":{"field":"m","type":"quantitative"},"detail":{"field":"g"}}},
 {"data":{"values":[{"t":"(o)"}]},"mark":{"type":"text","align":"left","baseline":"top","dx":3,"dy":4},"encoding":{"x":{"datum":0},"y":{"datum":1.2},"text":{"field":"t"}}}
]},
{"width":193,"height":151,"data":{"name":"p"},"layer":[
 {"mark":{"type":"line","color":"#c3c3c3","strokeWidth":1.3,"clip":true},"encoding":{"x":{"field":"d","type":"quantitative","scale":{"domain":[0,62.1],"nice":false,"zero":false},"axis":{"values":[14,28,42,56],"title":null,"labelOverlap":false,"labelPadding":7,"labelExpr":"datum.value==14?'31/12':datum.value==28?'14/01':datum.value==42?'28/01':'11/02'"}},"y":{"field":"hi","type":"quantitative","scale":{"domain":[-0.1,1.2],"nice":false,"zero":false},"axis":{"values":[0,0.2,0.4,0.6,0.8,1],"tickCount":12,"labels":false,"title":null,"minExtent":0,"maxExtent":0}},"detail":{"field":"g"}}},
 {"mark":{"type":"line","color":"#c3c3c3","strokeWidth":1.3,"clip":true},"encoding":{"x":{"field":"d","type":"quantitative"},"y":{"field":"lo","type":"quantitative"},"detail":{"field":"g"}}},
 {"mark":{"type":"line","color":"black","strokeWidth":2.2,"clip":true},"encoding":{"x":{"field":"d","type":"quantitative"},"y":{"field":"m","type":"quantitative"},"detail":{"field":"g"}}},
 {"data":{"values":[{"t":"(p)"}]},"mark":{"type":"text","align":"left","baseline":"top","dx":3,"dy":4},"encoding":{"x":{"datum":0},"y":{"datum":1.2},"text":{"field":"t"}}}
]}
]
}
